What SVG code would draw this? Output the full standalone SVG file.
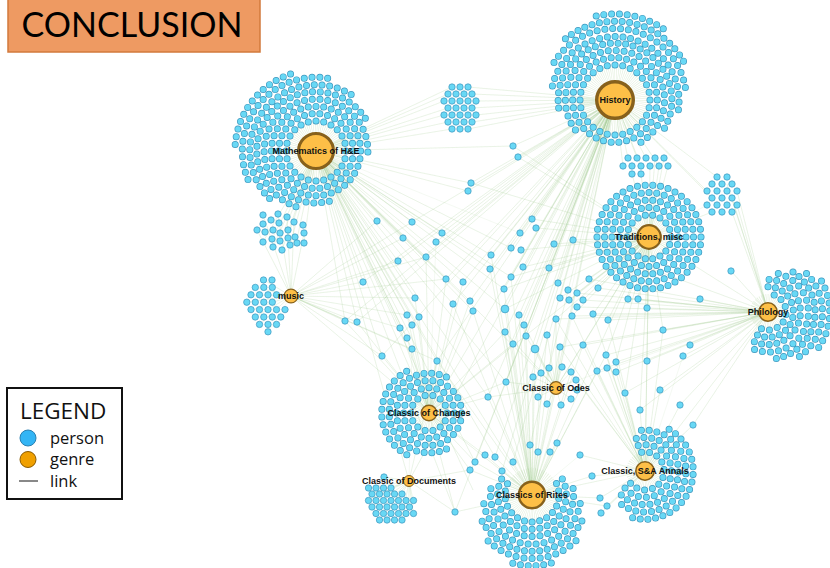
<svg xmlns="http://www.w3.org/2000/svg" xmlns:xlink="http://www.w3.org/1999/xlink" width="830" height="568" viewBox="0 0 830 568">
<style>
.ring{fill:none;stroke-dasharray:0 1;stroke-linecap:round}
.dotO{stroke:#3f97bd;stroke-width:7}
.dotI{stroke:#68d8f5;stroke-width:5.6}
.p{fill:#68d8f5;stroke:#3f97bd;stroke-width:0.7}
.p circle{r:3.2px}
.p .b{r:3.9px}
.e{fill:none;stroke:#a3cd90;stroke-width:0.55;stroke-opacity:0.22}
.sp{fill:none;stroke:#c3e0b5;stroke-opacity:0.5;stroke-dasharray:0.35 0.85}
.g{fill:#fdbf47;stroke:#87611c}
.lbl{font-family:"Liberation Sans",Arial,sans-serif;font-size:9px;font-weight:bold;fill:#111;text-anchor:middle;dominant-baseline:central}
</style>
<defs>
<g id="rings">
<path class="ring" pathLength="28" d="M650 100a35 35 0 1 1-70 0a35 35 0 1 1 70 0"/>
<path class="ring" pathLength="34" d="M657.3 100a42.3 42.3 0 1 1-84.6 0a42.3 42.3 0 1 1 84.6 0"/>
<path class="ring" pathLength="30.02" d="M575.4 129.9A49.6 49.6 0 1 1 640.8 142.3"/>
<path class="ring" pathLength="28.02" d="M558.7 108.1A56.9 56.9 0 1 1 664.4 128.3"/>
<path class="ring" pathLength="25.02" d="M552.4 85.9A64.2 64.2 0 0 1 678.4 109.9"/>
<path class="ring" pathLength="22.02" d="M554 62.6A71.5 71.5 0 0 1 685.4 87.7"/>
<path class="ring" pathLength="18.02" d="M565.4 38.8A78.8 78.8 0 0 1 683.6 61.3"/>
<path class="ring" pathLength="9.02" d="M596.2 16A86.1 86.1 0 0 1 663.4 28.8"/>
<path class="ring" pathLength="24" d="M346 151a30 30 0 1 1-60 0a30 30 0 1 1 60 0"/>
<path class="ring" pathLength="30" d="M353.3 151a37.3 37.3 0 1 1-74.6 0a37.3 37.3 0 1 1 74.6 0"/>
<path class="ring" pathLength="36" d="M360.6 151a44.6 44.6 0 1 1-89.2 0a44.6 44.6 0 1 1 89.2 0"/>
<path class="ring" pathLength="33.02" d="M329.3 201.2A51.9 51.9 0 1 1 367.9 152.2"/>
<path class="ring" pathLength="29.02" d="M296 206.7A59.2 59.2 0 1 1 365.4 118.4"/>
<path class="ring" pathLength="25.02" d="M269.6 198.6A66.5 66.5 0 0 1 351.3 94.7"/>
<path class="ring" pathLength="20.02" d="M248 179.6A73.8 73.8 0 0 1 327.8 78.2"/>
<path class="ring" pathLength="12.02" d="M235.2 144.5A81.1 81.1 0 0 1 290.7 74"/>
<path class="ring" pathLength="18" d="M671 237a22 22 0 1 1-44 0a22 22 0 1 1 44 0"/>
<path class="ring" pathLength="24" d="M678.5 237a29.5 29.5 0 1 1-59 0a29.5 29.5 0 1 1 59 0"/>
<path class="ring" pathLength="30" d="M686 237a37 37 0 1 1-74 0a37 37 0 1 1 74 0"/>
<path class="ring" pathLength="36" d="M693.5 237a44.5 44.5 0 1 1-89 0a44.5 44.5 0 1 1 89 0"/>
<path class="ring" pathLength="42" d="M701 237a52 52 0 1 1-104 0a52 52 0 1 1 104 0"/>
<path class="ring" pathLength="7.02" d="M774.2 295.1A18 18 0 1 1 761.3 328.7"/>
<path class="ring" pathLength="12.02" d="M768 286.7A25.3 25.3 0 1 1 757.3 334.9"/>
<path class="ring" pathLength="15.02" d="M769.1 279.4A32.6 32.6 0 1 1 754.2 341.6"/>
<path class="ring" pathLength="16.02" d="M778.3 273.5A39.9 39.9 0 1 1 754.4 349.5"/>
<path class="ring" pathLength="15.02" d="M793 272A47.2 47.2 0 0 1 776.2 358.5"/>
<path class="ring" pathLength="12.02" d="M806.5 273.5A54.5 54.5 0 0 1 799.3 356.7"/>
<path class="ring" pathLength="9.02" d="M821.5 281.1A61.8 61.8 0 0 1 818.6 347.5"/>
<path class="ring" pathLength="14" d="M447 413a18 18 0 1 1-36 0a18 18 0 1 1 36 0"/>
<path class="ring" pathLength="20" d="M454.3 413a25.3 25.3 0 1 1-50.6 0a25.3 25.3 0 1 1 50.6 0"/>
<path class="ring" pathLength="26" d="M461.6 413a32.6 32.6 0 1 1-65.2 0a32.6 32.6 0 1 1 65.2 0"/>
<path class="ring" pathLength="21.02" d="M446.5 448.9A39.9 39.9 0 1 1 446.5 377.1"/>
<path class="ring" pathLength="13.02" d="M406.8 454.7A47.2 47.2 0 0 1 406.8 371.3"/>
<path class="ring" pathLength="14.02" d="M556.5 483.6A27 27 0 1 1 507.5 483.6"/>
<path class="ring" pathLength="18.02" d="M562.3 478.9A34.3 34.3 0 1 1 501.7 478.9"/>
<path class="ring" pathLength="18.02" d="M573.1 488.5A41.6 41.6 0 1 1 490.9 488.5"/>
<path class="ring" pathLength="17.02" d="M580.2 503.5A48.9 48.9 0 0 1 483.8 503.5"/>
<path class="ring" pathLength="16.02" d="M581.9 521A56.2 56.2 0 0 1 482.1 521"/>
<path class="ring" pathLength="12.02" d="M576 540.8A63.5 63.5 0 0 1 488 540.8"/>
<path class="ring" pathLength="5.02" d="M551.3 563.1A70.8 70.8 0 0 1 512.7 563.1"/>
<path class="ring" pathLength="10.02" d="M641.7 452.3A19 19 0 1 1 630.5 483.2"/>
<path class="ring" pathLength="14.02" d="M638.2 445.6A26.3 26.3 0 1 1 624.9 487.9"/>
<path class="ring" pathLength="18.02" d="M636.3 438.6A33.6 33.6 0 1 1 621.2 494.8"/>
<path class="ring" pathLength="20.02" d="M641.4 430.3A40.9 40.9 0 1 1 621.5 504.5"/>
<path class="ring" pathLength="18.02" d="M669.1 429.3A48.2 48.2 0 0 1 632.5 517.6"/>
</g>
</defs>
<rect width="830" height="568" fill="#fff"/>
<g id="connectors">
<path class="sp" stroke-width="35" d="M632.5 100a17.5 17.5 0 1 1-35 0a17.5 17.5 0 1 1 35 0"/>
<path class="sp" stroke-width="30" d="M331 151a15 15 0 1 1-30 0a15 15 0 1 1 30 0"/>
<path class="sp" stroke-width="22" d="M660 237a11 11 0 1 1-22 0a11 11 0 1 1 22 0"/>
<path class="sp" stroke-width="27" d="M545.5 495a13.5 13.5 0 1 1-27 0a13.5 13.5 0 1 1 27 0"/>
<path class="sp" stroke-width="18" d="M438 413a9 9 0 1 1-18 0a9 9 0 1 1 18 0"/>
<path class="sp" stroke-width="19" d="M654.5 471a9.5 9.5 0 1 1-19 0a9.5 9.5 0 1 1 19 0"/>
<path class="sp" stroke-width="18" d="M777 312a9 9 0 1 1-18 0a9 9 0 1 1 18 0"/>
<path class="e" d="M615 100L476 101L615 100L472 108L615 100L468 87L615 100L472 94L615 100L476 115L615 100L472 122L615 100L468 129L615 100L513 146L615 100L518 157L615 100L471 183L615 100L468 191L615 100L412 222L615 100L442 233L615 100L436 242L615 100L426 257L615 100L532 219L615 100L520 233L615 100L511 248L615 100L491 255L615 100L490 269L615 100L523 267L615 100L549 268L615 100L554 244L615 100L511 277L615 100L504 289L615 100L558 283L615 100L446 279L615 100L463 282L615 100L453 304L615 100L470 301L615 100L505 309L615 100L519 315L615 100L524 325L615 100L505 332L615 100L526 336L615 100L513 344L615 100L535 349L615 100L437 361L615 100L506 382L615 100L488 397L615 100L345 321L615 100L357 322L615 100L398 261L615 100L363 282L615 100L382 356L615 100L532 495L615 100L429 413L615 100L556 388L615 100L409 481L615 100L495 457L615 100L513 462L615 100L502 471L615 100L530 445L615 100L707 191L615 100L712 198L615 100L717 177L615 100L628 158L615 100L637 158L615 100L646 158L615 100L623 166L615 100L641 166L615 100L659 166L615 100L475 462L615 100L455 512L615 100L560 298L615 100L569 300"/>
<path class="e" d="M316 151L444 101L316 151L448 94L316 151L452 87L316 151L444 115L316 151L448 122L316 151L452 129L316 151L448 108L316 151L412 222L316 151L403 238L316 151L442 233L316 151L426 257L316 151L377 221L316 151L398 261L316 151L363 282L316 151L345 321L316 151L357 322L316 151L382 356L316 151L446 279L316 151L463 282L316 151L415 298L316 151L453 304L316 151L470 301L316 151L473 311L316 151L505 309L316 151L407 315L316 151L419 317L316 151L412 325L316 151L400 328L316 151L407 338L316 151L412 349L316 151L437 361L316 151L488 397L316 151L506 382L316 151L491 255L316 151L490 269L316 151L511 248L316 151L471 183L316 151L468 191L316 151L513 146L316 151L263 242L316 151L272 239L316 151L280 241L316 151L282 250L316 151L290 245L316 151L297 239L316 151L304 243L316 151L273 247L316 151L288 237L316 151L429 413L316 151L532 495L316 151L409 481L316 151L556 388L316 151L475 462L316 151L473 490L316 151L455 512L316 151L495 457L316 151L504 289L316 151L511 277L316 151L520 233"/>
<path class="e" d="M649 237L573 240L649 237L554 244L649 237L589 279L649 237L598 288L649 237L577 293L649 237L583 300L649 237L569 300L649 237L560 298L649 237L593 314L649 237L608 320L649 237L628 299L649 237L638 299L649 237L647 308L649 237L572 316L649 237L556 319L649 237L583 345L649 237L606 355L649 237L616 362L649 237L647 361L649 237L663 330L649 237L625 393L649 237L640 410L649 237L532 219L649 237L536 228L649 237L521 250L649 237L523 267L649 237L549 268L649 237L511 277L649 237L504 289L649 237L505 309L649 237L471 183L649 237L518 157L649 237L513 146L649 237L650 166L649 237L659 166L649 237L668 166L649 237L655 158L649 237L664 158L649 237L632 174L649 237L641 174L649 237L532 495L649 237L556 388L649 237L645 471L649 237L429 413L649 237L712 212L649 237L707 205"/>
<path class="e" d="M768 312L731 271L768 312L700 299L768 312L663 330L768 312L683 356L768 312L690 345L768 312L647 361L768 312L647 308L768 312L638 299L768 312L628 299L768 312L608 320L768 312L593 314L768 312L583 345L768 312L606 355L768 312L616 362L768 312L616 372L768 312L597 371L768 312L660 390L768 312L680 405L768 312L640 410L768 312L625 393L768 312L583 300L768 312L577 307L768 312L556 319L768 312L560 347L768 312L572 316L768 312L577 293L768 312L598 288L768 312L589 279L768 312L573 240L768 312L737 205L768 312L732 212L768 312L737 191L768 312L732 198L768 312L727 184L768 312L693 425L768 312L649 237L768 312L645 471L768 312L556 388"/>
<path class="e" d="M532 495L488 397L532 495L506 382L532 495L505 332L532 495L526 336L532 495L513 344L532 495L535 349L532 495L547 335L532 495L560 347L532 495L583 345L532 495L524 325L532 495L519 315L532 495L505 309L532 495L556 319L532 495L437 361L532 495L470 470L532 495L485 455L532 495L455 512L532 495L475 462L532 495L495 457L532 495L513 462L532 495L502 471L532 495L530 445L532 495L538 452L532 495L550 452L532 495L557 443L532 495L600 498L532 495L607 506L532 495L592 476L532 495L533 377L532 495L541 373L532 495L571 372L532 495L606 355L532 495L597 371L532 495L473 311L532 495L453 304L532 495L504 289L532 495L511 277L532 495L490 269L532 495L491 255L532 495L556 388L532 495L429 413L532 495L645 471L532 495L580 455"/>
<path class="e" d="M429 413L437 361L429 413L412 349L429 413L407 338L429 413L400 328L429 413L412 325L429 413L419 317L429 413L407 315L429 413L415 298L429 413L453 304L429 413L470 301L429 413L473 311L429 413L446 279L429 413L463 282L429 413L488 397L429 413L506 382L429 413L505 332L429 413L513 344L429 413L382 356L429 413L357 322L429 413L345 321L429 413L455 512L429 413L485 455L429 413L475 462L429 413L470 470L429 413L426 257L429 413L436 242"/>
<path class="e" d="M645 471L600 498L645 471L607 506L645 471L601 513L645 471L592 476L645 471L580 455L645 471L616 372L645 471L607 368L645 471L597 371L645 471L616 362L645 471L606 355L645 471L647 361L645 471L660 390L645 471L625 393L645 471L640 410L645 471L680 405L645 471L693 425L645 471L583 345L645 471L560 347L645 471L576 380L645 471L571 372L645 471L556 319L645 471L572 316L645 471L593 314L645 471L608 320L645 471L663 330L645 471L683 356"/>
<path class="e" d="M556 388L541 373L556 388L549 368L556 388L562 367L556 388L571 372L556 388L533 377L556 388L576 380L556 388L538 397L556 388L547 404L556 388L561 405L556 388L571 399L556 388L577 390L556 388L535 349L556 388L547 335L556 388L526 336L556 388L560 347L556 388L505 332L556 388L583 345L556 388L506 382L556 388L488 397L556 388L524 325L556 388L556 319L556 388L572 316"/>
<path class="e" d="M291 296L345 321L291 296L357 322L291 296L363 282L291 296L382 356L291 296L398 261L291 296L403 238L291 296L415 298L291 296L407 315L291 296L400 328L291 296L412 349L291 296L446 279L291 296L426 257L291 296L377 221L291 296L412 222L291 296L263 215L291 296L278 214L291 296L287 217L291 296L294 222L291 296L257 230L291 296L304 233L291 296L437 361L291 296L429 413L291 296L264 280L291 296L255 287L291 296L251 295L291 296L247 302L291 296L251 310L291 296L255 317L291 296L260 324L291 296L268 332"/>
<path class="e" d="M409 481L384 477L409 481L368 488L409 481L391 488L409 481L372 494L409 481L402 494L409 481L368 500L409 481L413 500L409 481L372 507L409 481L409 507L409 481L376 514L409 481L413 514L409 481L380 520L409 481L402 520L409 481L455 512L409 481L470 470L409 481L437 361L409 481L412 349"/>
</g>
<g id="persons">
<use href="#rings" class="dotO"/>
<use href="#rings" class="dotI"/>
<g id="group-math-history" class="p">
<circle cx="452" cy="87"/><circle cx="460" cy="87"/><circle cx="468" cy="87"/>
<circle cx="448" cy="94"/><circle cx="456" cy="94"/><circle cx="464" cy="94"/><circle cx="472" cy="94"/>
<circle cx="444" cy="101"/><circle cx="452" cy="101"/><circle cx="460" cy="101"/><circle cx="468" cy="101"/><circle cx="476" cy="101"/>
<circle cx="448" cy="108"/><circle cx="456" cy="108"/><circle cx="464" cy="108"/><circle cx="472" cy="108"/>
<circle cx="444" cy="115"/><circle cx="452" cy="115"/><circle cx="460" cy="115"/><circle cx="468" cy="115"/><circle cx="476" cy="115"/>
<circle cx="448" cy="122"/><circle cx="456" cy="122"/><circle cx="464" cy="122"/><circle cx="472" cy="122"/>
<circle cx="452" cy="129"/><circle cx="460" cy="129"/><circle cx="468" cy="129"/>
</g>
<g id="group-top-right" class="p">
<circle cx="717" cy="177"/><circle cx="727" cy="177"/>
<circle cx="712" cy="184"/><circle cx="722" cy="184"/><circle cx="732" cy="184"/>
<circle cx="707" cy="191"/><circle cx="717" cy="191"/><circle cx="727" cy="191"/><circle cx="737" cy="191"/>
<circle cx="712" cy="198"/><circle cx="722" cy="198"/><circle cx="732" cy="198"/>
<circle cx="707" cy="205"/><circle cx="717" cy="205"/><circle cx="727" cy="205"/><circle cx="737" cy="205"/>
<circle cx="712" cy="212"/><circle cx="722" cy="212"/><circle cx="732" cy="212"/>
</g>
<g id="group-history-traditions" class="p">
<circle cx="628" cy="158"/><circle cx="637" cy="158"/><circle cx="646" cy="158"/><circle cx="655" cy="158"/><circle cx="664" cy="158"/>
<circle cx="623" cy="166"/><circle cx="632" cy="166"/><circle cx="641" cy="166"/><circle cx="650" cy="166"/><circle cx="659" cy="166"/><circle cx="668" cy="166"/>
<circle cx="632" cy="174"/><circle cx="641" cy="174"/>
</g>
<g id="group-music-upper" class="p">
<circle cx="263" cy="215"/><circle cx="278" cy="214"/><circle cx="287" cy="217"/><circle cx="294" cy="222"/><circle cx="271" cy="220"/><circle cx="279" cy="223"/><circle cx="263" cy="224"/><circle cx="303" cy="225"/><circle cx="257" cy="230"/><circle cx="265" cy="232"/><circle cx="273" cy="230"/><circle cx="280" cy="233"/><circle cx="288" cy="230"/><circle cx="295" cy="237"/><circle cx="304" cy="233"/><circle cx="263" cy="242"/><circle cx="272" cy="239"/><circle cx="280" cy="241"/><circle cx="288" cy="238"/><circle cx="273" cy="247"/><circle cx="282" cy="250"/><circle cx="290" cy="245"/><circle cx="297" cy="243"/><circle cx="304" cy="243"/>
</g>
<g id="group-music" class="p">
<circle cx="263.5" cy="280"/><circle cx="272" cy="280"/>
<circle cx="255.3" cy="287.4"/><circle cx="263.8" cy="287.4"/><circle cx="272.3" cy="287.4"/>
<circle cx="251" cy="294.8"/><circle cx="259.5" cy="294.8"/><circle cx="268" cy="294.8"/><circle cx="276.5" cy="294.8"/>
<circle cx="246.8" cy="302.2"/><circle cx="255.3" cy="302.2"/><circle cx="263.8" cy="302.2"/><circle cx="272.3" cy="302.2"/>
<circle cx="251" cy="309.6"/><circle cx="259.5" cy="309.6"/><circle cx="268" cy="309.6"/><circle cx="276.5" cy="309.6"/><circle cx="285" cy="309.6"/>
<circle cx="255.3" cy="317"/><circle cx="263.8" cy="317"/><circle cx="272.3" cy="317"/><circle cx="280.8" cy="317"/>
<circle cx="259.5" cy="324.4"/><circle cx="268" cy="324.4"/><circle cx="276.5" cy="324.4"/>
<circle cx="268" cy="331.8"/>
</g>
<g id="group-documents" class="p">
<circle cx="384" cy="477"/>
<circle cx="368.5" cy="488"/><circle cx="376" cy="488"/><circle cx="383.5" cy="488"/><circle cx="391" cy="488"/>
<circle cx="372" cy="494"/><circle cx="379.5" cy="494"/><circle cx="387" cy="494"/><circle cx="394.5" cy="494"/><circle cx="402" cy="494"/>
<circle cx="368.5" cy="500.5"/><circle cx="376" cy="500.5"/><circle cx="383.5" cy="500.5"/><circle cx="391" cy="500.5"/><circle cx="398.5" cy="500.5"/><circle cx="406" cy="500.5"/><circle cx="413.5" cy="500.5"/>
<circle cx="372" cy="507"/><circle cx="379.5" cy="507"/><circle cx="387" cy="507"/><circle cx="394.5" cy="507"/><circle cx="402" cy="507"/><circle cx="409.5" cy="507"/>
<circle cx="376" cy="513.5"/><circle cx="383.5" cy="513.5"/><circle cx="391" cy="513.5"/><circle cx="398.5" cy="513.5"/><circle cx="406" cy="513.5"/><circle cx="413.5" cy="513.5"/>
<circle cx="379.5" cy="520"/><circle cx="387" cy="520"/><circle cx="394.5" cy="520"/><circle cx="402" cy="520"/>
</g>
<g id="group-odes" class="p">
<circle cx="541" cy="373"/><circle cx="549" cy="368"/><circle cx="562" cy="367"/><circle cx="571" cy="372"/><circle cx="533" cy="377"/><circle cx="576" cy="380"/><circle cx="538" cy="397"/><circle cx="547" cy="404"/><circle cx="561" cy="405"/><circle cx="571" cy="399"/><circle cx="577" cy="390"/>
</g>
<g id="scattered" class="p">
<circle cx="513" cy="146"/><circle cx="518" cy="157"/><circle cx="471" cy="183"/><circle cx="468" cy="191"/><circle cx="377" cy="221"/><circle cx="398" cy="261"/><circle cx="363" cy="282"/><circle cx="345" cy="321"/><circle cx="357" cy="322"/><circle cx="382" cy="356"/>
<circle cx="412" cy="222"/><circle cx="403" cy="238"/><circle cx="442" cy="233"/><circle cx="436" cy="242"/><circle cx="426" cy="257"/><circle cx="532" cy="219"/><circle cx="536" cy="228"/><circle cx="520" cy="233"/><circle cx="511" cy="248"/><circle cx="521" cy="250"/><circle cx="491" cy="255"/><circle cx="490" cy="269"/><circle cx="523" cy="267"/><circle cx="549" cy="268"/><circle cx="554" cy="244"/><circle cx="573" cy="240"/><circle cx="511" cy="277"/><circle cx="504" cy="289"/><circle cx="558" cy="283"/><circle cx="568" cy="290"/><circle cx="577" cy="293"/><circle cx="589" cy="279"/><circle cx="598" cy="288"/><circle cx="560" cy="298"/><circle cx="569" cy="300"/><circle cx="583" cy="300"/><circle cx="577" cy="307"/>
<circle cx="446" cy="279"/><circle cx="463" cy="282"/><circle cx="415" cy="298"/><circle cx="453" cy="304"/><circle cx="470" cy="301"/><circle cx="473" cy="311"/><circle class="b" cx="505" cy="309"/><circle cx="519" cy="315"/><circle cx="524" cy="325"/><circle cx="556" cy="319"/><circle cx="572" cy="316"/><circle cx="593" cy="314"/><circle cx="608" cy="320"/><circle cx="628" cy="299"/><circle cx="638" cy="299"/><circle cx="647" cy="308"/>
<circle cx="407" cy="315"/><circle cx="419" cy="317"/><circle cx="412" cy="325"/><circle cx="400" cy="328"/><circle cx="407" cy="338"/><circle cx="412" cy="349"/><circle cx="505" cy="332"/><circle cx="526" cy="336"/><circle cx="547" cy="335"/><circle cx="513" cy="344"/><circle class="b" cx="535" cy="349"/><circle cx="560" cy="347"/><circle cx="583" cy="345"/><circle cx="606" cy="355"/><circle cx="616" cy="362"/><circle cx="607" cy="368"/><circle cx="616" cy="372"/><circle cx="597" cy="371"/><circle cx="647" cy="361"/><circle cx="437" cy="361"/><circle cx="506" cy="382"/><circle cx="488" cy="397"/>
<circle cx="731" cy="271"/><circle cx="700" cy="299"/><circle cx="663" cy="330"/><circle cx="683" cy="356"/><circle cx="690" cy="345"/><circle cx="660" cy="390"/><circle cx="680" cy="405"/><circle cx="625" cy="393"/><circle cx="640" cy="410"/><circle cx="693" cy="425"/>
<circle cx="455" cy="512"/><circle cx="470" cy="470"/><circle cx="485" cy="455"/><circle cx="600" cy="498"/><circle cx="607" cy="506"/><circle cx="601" cy="513"/><circle cx="592" cy="476"/><circle cx="580" cy="455"/>
<circle cx="475" cy="462"/><circle cx="495" cy="457"/><circle cx="513" cy="462"/><circle cx="502" cy="471"/><circle cx="530" cy="445"/><circle cx="538" cy="452"/><circle cx="550" cy="452"/><circle cx="557" cy="443"/>
</g>
</g>
<g id="genre-history"><circle class="g" cx="615" cy="100" r="18.3" stroke-width="3.4"/><text class="lbl" x="615" y="100">History</text></g>
<g id="genre-math"><circle class="g" cx="316" cy="151" r="17.5" stroke-width="3"/><text class="lbl" x="316" y="151">Mathematics of H&amp;E</text></g>
<g id="genre-traditions"><circle class="g" cx="649" cy="237" r="11.8" stroke-width="2.2"/><text class="lbl" x="649" y="237">Traditions, misc</text></g>
<g id="genre-philology"><circle class="g" cx="768" cy="312" r="9.2" stroke-width="1.6"/><text class="lbl" x="768" y="312">Philology</text></g>
<g id="genre-music"><circle class="g" cx="291" cy="296" r="6.9" stroke-width="1.2"/><text class="lbl" x="291" y="296">music</text></g>
<g id="genre-odes"><circle class="g" cx="556" cy="388" r="6.4" stroke-width="1.2"/><text class="lbl" x="556" y="388">Classic of Odes</text></g>
<g id="genre-changes"><circle class="g" cx="429" cy="413" r="7.8" stroke-width="1.4"/><text class="lbl" x="429" y="413">Classic of Changes</text></g>
<g id="genre-documents"><circle class="g" cx="409" cy="481" r="5.5" stroke-width="1"/><text class="lbl" x="409" y="481">Classic of Documents</text></g>
<g id="genre-rites"><circle class="g" cx="532" cy="495" r="13.2" stroke-width="2.4"/><text class="lbl" x="532" y="495">Classics of Rites</text></g>
<g id="genre-annals"><circle class="g" cx="645" cy="471" r="9.2" stroke-width="1.6"/><text class="lbl" x="645" y="471">Classic, S&amp;A Annals</text></g>
<g id="title">
<rect x="8" y="-2" width="252" height="54" fill="#ee9a62" stroke="#d27a3c" stroke-width="1.5"/>
<text x="132" y="37" font-family="Lato, 'Open Sans', sans-serif" font-size="34" text-anchor="middle" fill="#000">CONCLUSION</text>
</g>
<g id="legend" font-family="'Open Sans', 'Noto Sans', sans-serif" fill="#111">
<rect x="7" y="388" width="115" height="111" fill="#fff" stroke="#111" stroke-width="2"/>
<text x="20" y="418.5" font-size="22.5">LEGEND</text>
<circle cx="28" cy="438" r="8" fill="#33b5f5" stroke="#2a7fb0" stroke-width="1"/>
<text x="50" y="443.5" font-size="16.5">person</text>
<circle cx="28" cy="459.5" r="8" fill="#f0a000" stroke="#8a5a00" stroke-width="1"/>
<text x="50" y="465" font-size="16.5">genre</text>
<line x1="19" y1="481" x2="38" y2="481" stroke="#888" stroke-width="2"/>
<text x="50" y="486.5" font-size="16.5">link</text>
</g>
</svg>
